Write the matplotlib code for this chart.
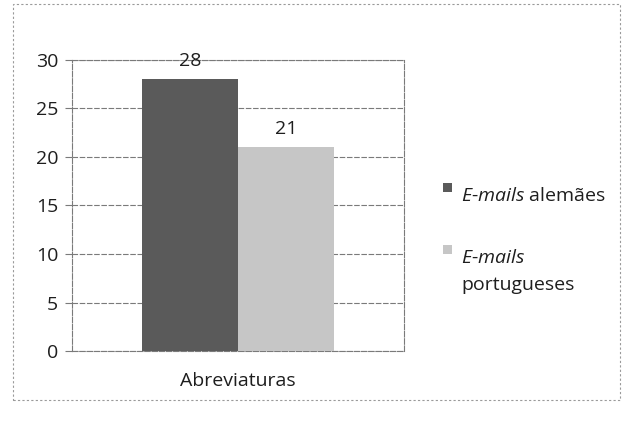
import matplotlib
matplotlib.use("Agg")
import matplotlib.pyplot as plt
from matplotlib.patches import Rectangle

plt.rcParams['font.family'] = ['Open Sans', 'DejaVu Sans']
plt.rcParams['mathtext.fontset'] = 'custom'
plt.rcParams['mathtext.it'] = 'Open Sans:italic'
plt.rcParams['mathtext.rm'] = 'Open Sans'

categories = ["Abreviaturas"]
series_names = [r"$\it{E}$-$\it{mails}$ alemães", "$\\it{E}$-$\\it{mails}$\nportugueses"]
values_de = [28]
values_pt = [21]
yticks = [0, 5, 10, 15, 20, 25, 30]

colors = ["#5a5a5a", "#c6c6c6"]
grid_color = "#7a7a7a"
text_color = "#1e1e1e"
FS = 14

W, H = 623, 428
fig = plt.figure(figsize=(W/100, H/100), dpi=100)
ax = fig.add_axes([72/W, 1-351/H, (404-72)/W, (351-60)/H])

w = 0.288
x = [0]
b1 = ax.bar([xi - w/2 for xi in x], values_de, width=w, color=colors[0], zorder=3)
b2 = ax.bar([xi + w/2 for xi in x], values_pt, width=w, color=colors[1], zorder=3)

for bars in (b1, b2):
    for r in bars:
        ax.annotate(f"{r.get_height():.0f}", (r.get_x() + r.get_width()/2, r.get_height()),
                    xytext=(0, 7), textcoords="offset points", ha="center", va="bottom",
                    fontsize=FS, color=text_color)

ax.set_xlim(-0.5, 0.5)
ax.set_ylim(0, 30)
ax.set_yticks(yticks)
ax.set_xticks(x)
ax.set_xticklabels(categories, fontsize=FS, color=text_color)
ax.tick_params(axis='x', length=0, pad=15)
ax.tick_params(axis='y', length=5, width=0.8, color=grid_color, labelsize=FS,
               labelcolor=text_color, pad=5)
ax.yaxis.grid(True, color=grid_color, linewidth=0.8, linestyle=(0, (5, 1.5)), zorder=0)
for s in ax.spines.values():
    s.set_color(grid_color)
    s.set_linewidth(0.8)
    s.set_linestyle((0, (5, 1.5)))

# legend (drawn manually so the swatch lines up with the first text line)
leg_x_box = 443
leg_x_txt = 461
entry_baselines = [201, 263]
line_step = 27
box = 9
for name, col, base in zip(series_names, colors, entry_baselines):
    fig.patches.append(Rectangle((leg_x_box/W, 1-(base-9)/H - 0), box/W, box/H,
                                 transform=fig.transFigure, facecolor=col, edgecolor="none"))
    for i, line in enumerate(name.split("\n")):
        fig.text(leg_x_txt/W, 1-(base + i*line_step)/H, line, fontsize=FS,
                 color=text_color, ha="left", va="baseline")

fig.patches.append(Rectangle((13/W, 1-400/H), (620-13)/W, (400-4)/H,
                             transform=fig.transFigure, fill=False,
                             edgecolor="#9a9a9a", linewidth=0.8, linestyle=(0, (2, 2))))

fig.savefig("out.png", dpi=100)
